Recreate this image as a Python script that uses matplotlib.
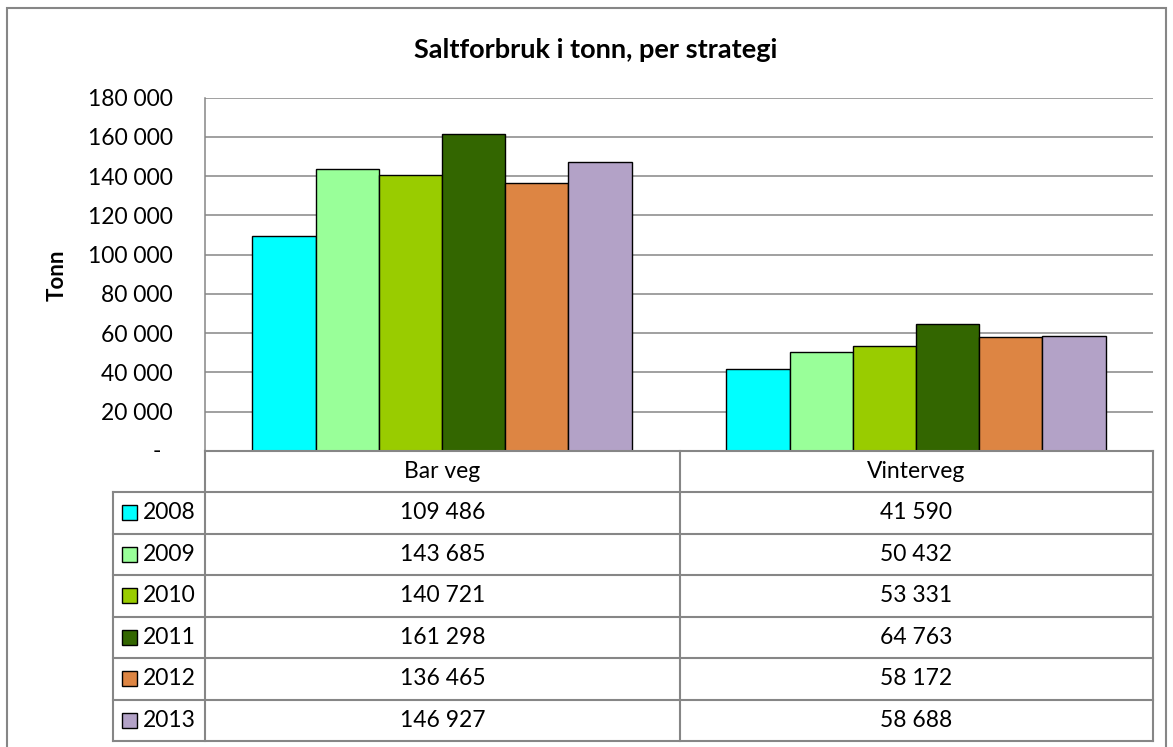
import matplotlib.pyplot as plt
import matplotlib.patches as mpatches
import numpy as np

plt.rcParams['font.family'] = ['Lato', 'DejaVu Sans']

categories = ['Bar veg', 'Vinterveg']
years = ['2008', '2009', '2010', '2011', '2012', '2013']
values = {
    '2008': [109486, 41590],
    '2009': [143685, 50432],
    '2010': [140721, 53331],
    '2011': [161298, 64763],
    '2012': [136465, 58172],
    '2013': [146927, 58688],
}
colors = ['#00FFFF', '#99FF99', '#99CC00', '#336600', '#DD8543', '#B3A2C7']
yticks = np.arange(0, 180001, 20000)

W, H = 1173, 747
fig = plt.figure(figsize=(W / 100, H / 100), dpi=100)

def fx(px):
    return px / W

def fy(py):
    return 1 - py / H

grid_c = '#868686'
fs = 16.5

# outer chart border
fig.patches.append(mpatches.Rectangle((fx(7), fy(770)), fx(1166) - fx(7), fy(8) - fy(770),
                                      transform=fig.transFigure, fill=False,
                                      edgecolor=grid_c, lw=1.5))

L, R, T, B = 205, 1153, 97.5, 451
ax = fig.add_axes([fx(L), fy(B), fx(R) - fx(L), fy(T) - fy(B)])

n = len(years)
w = 0.8 / n
x = np.arange(len(categories))
for i, yr in enumerate(years):
    ax.bar(x - 0.4 + w * (i + 0.5), values[yr], width=w, color=colors[i],
           edgecolor='black', lw=1.0, zorder=3)

ax.set_xlim(-0.5, len(categories) - 0.5)
ax.set_ylim(0, 180000)
ax.set_yticks(yticks)
# zero is shown as '-' (accounting format), placed separately below
ax.set_yticklabels([''] + [f'{v:,}'.replace(',', ' ') for v in yticks[1:]], fontsize=fs)
ax.tick_params(axis='y', length=0, pad=23)
ax.set_xticks([])
ax.yaxis.grid(True, color=grid_c, lw=1.1, zorder=0)
for s in ['top', 'right', 'bottom']:
    ax.spines[s].set_visible(False)
ax.spines['left'].set_color(grid_c)
ax.spines['left'].set_linewidth(1.1)
fig.text(fx(157), fy(452), '-', fontsize=fs, ha='center', va='center')

fig.text(fx(57), fy(275), 'Tonn', fontsize=16, fontweight='bold', rotation=90,
         ha='center', va='center')
fig.text(fx(596), fy(50), 'Saltforbruk i tonn, per strategi', fontsize=19.5,
         fontweight='bold', ha='center', va='center')

# data table below the plot
row_h = 41.5
hdr_top, hdr_bot = B, B + 41
col_x = [113, L, 680, R]
rows_y = [hdr_bot + row_h * k for k in range(n + 1)]

def hline(x0, x1, y):
    fig.add_artist(plt.Line2D([fx(x0), fx(x1)], [fy(y), fy(y)], color=grid_c, lw=1.5))

def vline(x0, y0, y1):
    fig.add_artist(plt.Line2D([fx(x0), fx(x0)], [fy(y0), fy(y1)], color=grid_c, lw=1.5))

hline(L, R, hdr_top)
for yy in rows_y:
    hline(col_x[0], R, yy)
vline(col_x[0], rows_y[0], rows_y[-1])
for cx in col_x[1:]:
    vline(cx, hdr_top, rows_y[-1])

for j, cat in enumerate(categories):
    cxm = (col_x[j + 1] + col_x[j + 2]) / 2
    fig.text(fx(cxm), fy((hdr_top + hdr_bot) / 2), cat, fontsize=fs,
             ha='center', va='center')

for i, yr in enumerate(years):
    ym = (rows_y[i] + rows_y[i + 1]) / 2
    fig.patches.append(mpatches.Rectangle((fx(122), fy(ym + 7.5)), fx(15), 15 / H,
                                          transform=fig.transFigure,
                                          facecolor=colors[i], edgecolor='black', lw=1.0))
    fig.text(fx(143), fy(ym), yr, fontsize=fs, ha='left', va='center')
    for j in range(len(categories)):
        cxm = (col_x[j + 1] + col_x[j + 2]) / 2
        fig.text(fx(cxm), fy(ym), f'{values[yr][j]:,}'.replace(',', ' '),
                 fontsize=fs, ha='center', va='center')

fig.savefig('out.png', dpi=100)
